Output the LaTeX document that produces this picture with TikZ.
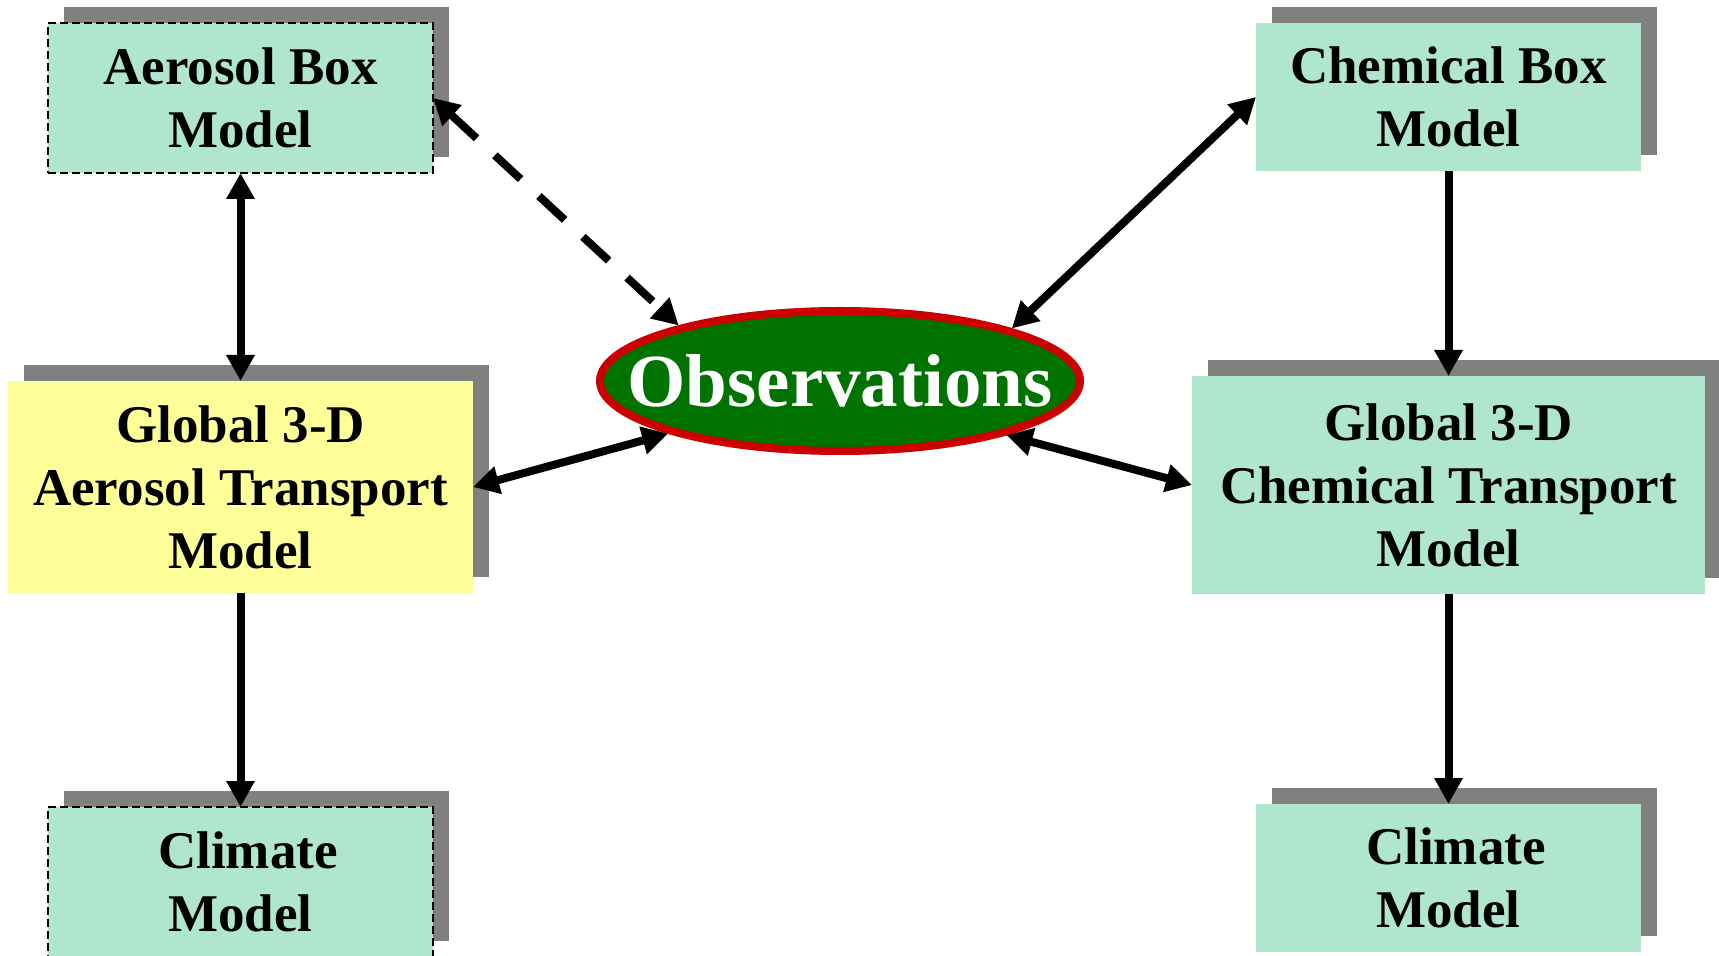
\documentclass[tikz,border=0pt]{standalone}
\usepackage{fontspec}
\setmainfont{Liberation Serif}
\usetikzlibrary{arrows.meta,shapes.geometric,backgrounds}
\definecolor{mint}{RGB}{176,230,206}
\definecolor{paleyellow}{RGB}{255,255,153}
\definecolor{shadowgray}{RGB}{128,128,128}
\definecolor{obsgreen}{RGB}{0,114,0}
\definecolor{obsred}{RGB}{204,0,0}
\begin{document}
\begin{tikzpicture}[x=0.5pt,y=-0.5pt,
  modelbox/.style={rectangle, inner sep=0pt, outer sep=0pt, align=center, fill=mint,
     font=\fontsize{26.5pt}{31.5pt}\selectfont\bfseries},
  dashedbox/.style={draw=black, line width=0.75pt, dash pattern=on 4pt off 2pt},
  onearrow/.style={line width=4pt, -{Triangle[length=13pt,width=13.5pt]}},
  twoarrow/.style={line width=4pt, {Triangle[length=13pt,width=13.5pt]}-{Triangle[length=13pt,width=13.5pt]}},
  obsnode/.style={ellipse, draw=obsred, line width=4pt, fill=obsgreen, inner sep=0pt,
     minimum width=240pt, minimum height=70pt, text=white,
     font=\fontsize{37.5pt}{40pt}\selectfont\bfseries}]
\useasboundingbox (0,0) rectangle (1719,956);

\node[modelbox, dashedbox, minimum width=192.5pt, minimum height=75pt] (abm) at (240.5,98) {Aerosol Box\\Model};
\node[modelbox, minimum width=192.5pt, minimum height=74pt] (cbm) at (1448.5,97) {Chemical Box\\Model};
\node[modelbox, fill=paleyellow, minimum width=232.5pt, minimum height=106pt] (at) at (240.5,487) {Global 3-D\\Aerosol Transport\\Model};
\node[modelbox, minimum width=256.5pt, minimum height=109pt] (ct) at (1448.5,485) {Global 3-D\\Chemical Transport\\Model};
\node[modelbox, dashedbox, minimum width=192.5pt, minimum height=75pt] (cla) at (240.5,882) {\hspace*{7.5pt}Climate\\Model};
\node[modelbox, minimum width=192.5pt, minimum height=74pt] (clc) at (1448.5,878) {\hspace*{7.5pt}Climate\\Model};
\node[obsnode] (obs) at (840,381) {\makebox[0pt]{Observations}};

\begin{scope}[on background layer]
  \foreach \n in {abm,cbm,at,ct,cla,clc}
    \fill[shadowgray] ([shift={(16,-16)}]\n.south west) rectangle ([shift={(16,-16)}]\n.north east);
\end{scope}

\draw[twoarrow] (abm.south) -- (at.north);
\draw[onearrow] (at.south) -- (cla.north);
\draw[onearrow] (cbm.south) -- (ct.north);
\draw[onearrow] (ct.south) -- (clc.north);
\draw[twoarrow, dash pattern=on 17.5pt off 12.5pt] (abm.east) -- (obs.161);
\draw[twoarrow] (cbm.west) -- (obs.17.5);
\draw[twoarrow] (at.east) -- (obs.197.6);
\draw[twoarrow] (obs.342.3) -- (ct.west);
\end{tikzpicture}
\end{document}
